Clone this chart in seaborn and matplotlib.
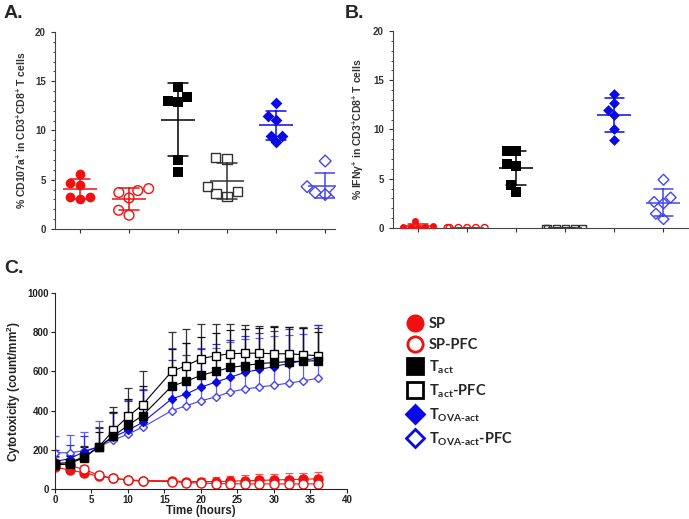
import numpy as np
import pandas as pd
import matplotlib
matplotlib.use("Agg")
import matplotlib.pyplot as plt
from matplotlib.lines import Line2D
from matplotlib.ticker import MultipleLocator
import seaborn as sns

# ---- data ----
groups = ["SP", "SP-PFC", "Tact", "Tact-PFC", "TOVA-act", "TOVA-act-PFC"]

# panel A: % CD107a+
cd107_sp = [4.7, 4.5, 5.6, 3.2, 3.05, 3.2]
cd107_sp_pfc = [4.1, 3.7, 3.9, 3.15, 1.4, 1.9]
cd107_tact = [14.4, 13.4, 12.9, 13.0, 7.0, 5.8]
cd107_tact_pfc = [7.25, 7.1, 3.8, 3.3, 3.6, 4.3]
cd107_tova = [12.75, 11.5, 11.1, 9.45, 9.45, 8.8]
cd107_tova_pfc = [6.9, 4.3, 3.7, 3.5, 3.7, 4.3]

# panel B: % IFNy+
ifng_sp = [0.1, 0.05, 0.2, 0.1, 0.1, 0.7]
ifng_sp_pfc = [0.0, 0.0, 0.0, 0.0, 0.0, 0.0]
ifng_tact = [7.8, 7.85, 6.45, 6.3, 4.4, 3.65]
ifng_tact_pfc = [0.0, 0.0, 0.0, 0.0, 0.0, 0.0]
ifng_tova = [12.7, 13.65, 11.95, 11.5, 10.05, 8.9]
ifng_tova_pfc = [4.9, 3.1, 2.65, 2.5, 1.45, 0.9]

# panel C: cytotoxicity over time (mean, SD)
times = [0, 2, 4, 6, 8, 10, 12, 16, 18, 20, 22, 24, 26, 28, 30, 32, 34, 36]
sp_mean = [110, 98, 82, 65, 55, 47, 43, 42, 38, 38, 38, 40, 42, 44, 46, 48, 50, 52]
sp_sd = [40, 35, 25, 15, 12, 10, 8, 10, 15, 20, 22, 25, 28, 30, 30, 32, 33, 35]
sp_pfc_mean = [135, 120, 100, 70, 55, 45, 40, 38, 33, 30, 28, 27, 26, 26, 26, 26, 26, 26]
sp_pfc_sd = [30, 25, 20, 12, 10, 8, 8, 8, 10, 12, 12, 12, 14, 15, 15, 15, 16, 16]
tact_mean = [120, 130, 160, 215, 270, 325, 375, 525, 550, 580, 600, 620, 630, 640, 645, 650, 652, 655]
tact_sd = [30, 40, 55, 75, 125, 135, 150, 190, 195, 195, 195, 190, 185, 180, 180, 175, 170, 145]
tact_pfc_mean = [130, 135, 165, 215, 300, 370, 430, 600, 630, 665, 680, 690, 693, 693, 690, 690, 685, 680]
tact_pfc_sd = [40, 40, 55, 95, 120, 145, 170, 200, 185, 175, 160, 150, 145, 140, 140, 135, 135, 140]
tova_mean = [140, 155, 190, 215, 265, 300, 340, 460, 485, 520, 545, 570, 595, 610, 625, 640, 655, 670]
tova_sd = [60, 70, 80, 100, 125, 150, 165, 200, 200, 195, 195, 190, 185, 185, 180, 175, 170, 165]
tova_pfc_mean = [185, 185, 195, 215, 250, 280, 315, 400, 425, 450, 470, 495, 510, 520, 530, 540, 552, 565]
tova_pfc_sd = [85, 90, 95, 130, 145, 175, 195, 320, 320, 270, 250, 255, 255, 250, 250, 245, 240, 270]

legend_labels = ["SP", "SP-PFC", "T$_{act}$", "T$_{act}$-PFC",
                 "T$_{OVA\u2010act}$", "T$_{OVA\u2010act}$-PFC"]

# ---- style ----
sns.set_style("ticks")
plt.rcParams["font.family"] = ["Liberation Sans", "DejaVu Sans"]
plt.rcParams["mathtext.default"] = "regular"

red = "#f01010"
black = "#000000"
blue = "#0a0ae6"
lblue = "#4545ee"
colors = [red, red, black, "#333333", blue, lblue]
markers = ["o", "o", "s", "s", "D", "D"]
hollow = [False, True, False, True, False, True]

fig = plt.figure(figsize=(6.89, 5.19), dpi=100)
axA = fig.add_axes([0.0798, 0.5588, 0.4064, 0.3796])
axB = fig.add_axes([0.5704, 0.5607, 0.4282, 0.3796])
axC = fig.add_axes([0.0798, 0.0578, 0.4238, 0.3776])


def scatter_panel(ax, values, ylabel, right, sizes):
    for g, vals, c, m, h, s in zip(groups, values, colors, markers, hollow, sizes):
        n_before = len(ax.collections)
        sns.swarmplot(x=[g] * len(vals), y=vals, order=groups, color=c,
                      marker=m, size=s, linewidth=0, ax=ax, warn_thresh=1)
        for coll in ax.collections[n_before:]:
            if h:
                coll.set_facecolor("none")
                coll.set_edgecolor(c)
                coll.set_linewidth(1.0)
    df = pd.DataFrame({"group": np.repeat(groups, 6),
                       "val": np.concatenate(values)})
    sns.pointplot(data=df, x="group", y="val", hue="group", order=groups,
                  palette=dict(zip(groups, colors)), errorbar="sd",
                  capsize=0.4, marker="_", markersize=25, markeredgewidth=1.1,
                  linestyle="none", err_kws={"linewidth": 1.1}, legend=False,
                  ax=ax)
    ax.set_ylim(0, 20)
    ax.set_xlim(-0.51, right)
    ax.yaxis.set_major_locator(MultipleLocator(5))
    ax.yaxis.set_minor_locator(MultipleLocator(1))
    ax.set_xticks(range(6))
    ax.set_xticklabels([])
    ax.set_xlabel("")
    ax.set_ylabel(ylabel, fontsize=7.5, fontweight="bold", color="#333333", labelpad=5)
    ax.tick_params(axis="both", labelsize=7, colors="#333333", length=3, width=0.8)
    ax.tick_params(axis="y", which="minor", length=1.5, width=0.6)
    for lab in ax.get_yticklabels():
        lab.set_fontweight("bold")
    sns.despine(ax=ax)
    for sp in ax.spines.values():
        sp.set_color("#444444")
        sp.set_linewidth(0.8)


scatter_panel(axA, [cd107_sp, cd107_sp_pfc, cd107_tact, cd107_tact_pfc, cd107_tova, cd107_tova_pfc],
              "% CD107a$^{+}$ in CD3$^{+}$CD8$^{+}$ T cells", 5.2, [7, 7, 7, 7, 6, 6])
scatter_panel(axB, [ifng_sp, ifng_sp_pfc, ifng_tact, ifng_tact_pfc, ifng_tova, ifng_tova_pfc],
              "% IFN\u03b3$^{+}$ in CD3$^{+}$CD8$^{+}$ T cells", 5.5, [5, 5, 6.5, 5, 5.5, 5.5])

# ---- panel C ----
series = [
    (sp_mean, sp_sd, red, "o", False, 6.5, "#ff5555"),
    (sp_pfc_mean, sp_pfc_sd, red, "o", True, 6.5, "#ff5555"),
    (tova_pfc_mean, tova_pfc_sd, lblue, "D", True, 4.5, "#6060ee"),
    (tova_mean, tova_sd, blue, "D", False, 4.5, "#3030e8"),
    (tact_pfc_mean, tact_pfc_sd, black, "s", True, 6, "#333333"),
    (tact_mean, tact_sd, black, "s", False, 6, "#111111"),
]
for mean, sd, c, m, h, ms, ec in series:
    axC.errorbar(times, mean, yerr=[np.zeros(len(sd)), sd], fmt="none",
                 ecolor=ec, elinewidth=0.9, capsize=3, capthick=0.9)
for mean, sd, c, m, h, ms, ec in series:
    sns.lineplot(x=times, y=mean, color=c, marker=m, markersize=ms,
                 markerfacecolor="white" if h else c, markeredgecolor=c,
                 markeredgewidth=1.0, linewidth=0.8, ax=axC)
axC.set_xlim(0, 40)
axC.set_ylim(0, 1000)
axC.xaxis.set_major_locator(MultipleLocator(5))
axC.yaxis.set_major_locator(MultipleLocator(200))
axC.set_xlabel("Time (hours)", fontsize=8.3, fontweight="bold", color="#222222", labelpad=0)
axC.set_ylabel("Cytotoxicity (count/mm$^{2}$)", fontsize=8.5, fontweight="bold",
               color="#222222", labelpad=3)
axC.tick_params(axis="both", labelsize=7, colors="#222222", length=3, width=0.8, pad=1.5)
for lab in axC.get_xticklabels() + axC.get_yticklabels():
    lab.set_fontweight("bold")
sns.despine(ax=axC)

# legend
handles = []
for c, m, h, ms in zip([red, red, black, black, blue, blue], markers, hollow,
                       [11, 11, 11, 11, 9, 9]):
    handles.append(Line2D([], [], linestyle="none", marker=m, markersize=ms,
                          color=c, markerfacecolor="white" if h else c,
                          markeredgewidth=2.0))
fig.legend(handles, legend_labels, loc="upper left",
           bbox_to_anchor=(398 / 689, 1 - 310 / 519), frameon=False,
           prop={"family": ["Lato", "DejaVu Sans"], "weight": "bold", "size": 10.5},
           labelspacing=0.45, handletextpad=0.3, handlelength=1.3, borderpad=0)

# panel letters
for txt, x, y in [("A.", 4, 5), ("B.", 345, 5), ("C.", 4, 260)]:
    fig.text(x / 689, 1 - y / 519, txt, fontsize=14, fontweight="bold",
             va="top", ha="left")

fig.savefig("out.png", dpi=100)
